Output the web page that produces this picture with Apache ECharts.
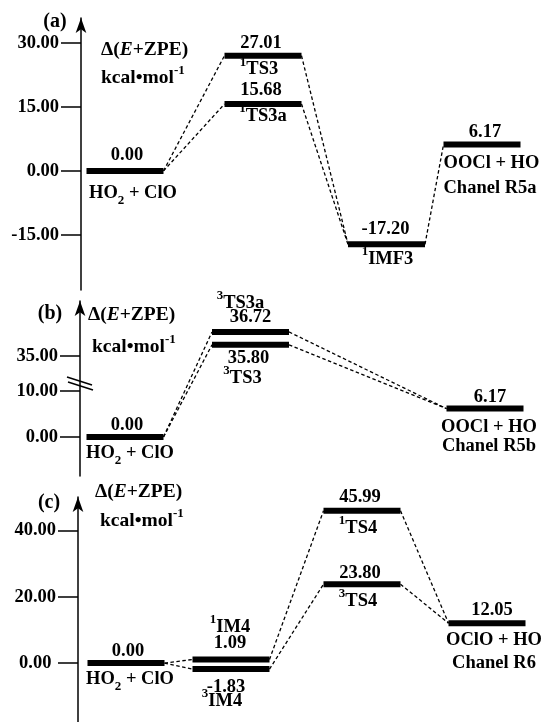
<!DOCTYPE html>
<html><head><meta charset="utf-8">
<script src="https://cdn.jsdelivr.net/npm/echarts@6/dist/echarts.min.js"></script>
<style>html,body{margin:0;padding:0;background:#fff}#c{width:542px;height:722px}</style>
</head><body><div id="c"></div>
<script>
// ================= DATA =================
// Panel (a) – channel R5a
const aSpecies = ['HO_2 + ClO', '^1TS3', '^1TS3a', '^1IMF3', 'OOCl + HO'];
const aEnergy  = [0.00, 27.01, 15.68, -17.20, 6.17];
const aStage   = [0, 1, 1, 2, 3];
const aLinks   = [[0, 1], [0, 2], [1, 3], [2, 3], [3, 4]];
const aChannel = 'Chanel R5a';
const aTicks   = [-15, 0, 15, 30];

// Panel (b) – channel R5b (broken energy axis)
const bSpecies   = ['HO_2 + ClO', '^3TS3a', '^3TS3', 'OOCl + HO'];
const bEnergy    = [0.00, 36.72, 35.80, 6.17];
const bStage     = [0, 1, 1, 2];
const bLinks     = [[0, 1], [0, 2], [1, 3], [2, 3]];
const bChannel   = 'Chanel R5b';
const bTicksLow  = [0, 10];
const bTicksHigh = [35];

// Panel (c) – channel R6
const cSpecies = ['HO_2 + ClO', '^1IM4', '^3IM4', '^1TS4', '^3TS4', 'OClO + HO'];
const cEnergy  = [0.00, 1.09, -1.83, 45.99, 23.80, 12.05];
const cStage   = [0, 1, 1, 2, 2, 3];
const cLinks   = [[0, 1], [0, 2], [1, 3], [2, 4], [3, 5], [4, 5]];
const cChannel = 'Chanel R6';
const cTicks   = [0, 20, 40];

const panelNames = ['(a)', '(b)', '(c)'];
const yTitleRich = '{d|Δ(}{i|E}{d|+ZPE)}';
const yUnitRich  = 'kcal•mol{sup|-1}';

// ================= LAYOUT / STYLE =================
const FF = '"Liberation Serif", "Times New Roman", serif';
const FS = 18.5;
const LH = 28;
const HW = 3.85;      // half bar width in reaction-coordinate units
const BAR_H = 6;
const RICH = {
  sup: { fontFamily: FF, fontWeight: 'bold', fontSize: 13, lineHeight: 13, verticalAlign: 'top', fill: '#000' },
  sub: { fontFamily: FF, fontWeight: 'bold', fontSize: 13, lineHeight: 20, verticalAlign: 'bottom', fill: '#000' },
  d:   { fontFamily: FF, fontWeight: 'bold', fontSize: 19.5, lineHeight: LH, fill: '#000' },
  i:   { fontFamily: FF, fontWeight: 'bold', fontStyle: 'italic', fontSize: 19.5, lineHeight: LH, fill: '#000' }
};
const PA = {
  species: aSpecies, energy: aEnergy, stage: aStage, channel: aChannel,
  stageX: [4.4, 18.2, 30.55, 40.1],
  labels: [
    [['v', -16, 2], ['n', 22, 8]],
    [['v', -12, -2], ['n', 14, -4]],
    [['v', -14, -2], ['n', 12, 0]],
    [['v', -15, -1], ['n', 15, 1]],
    [['v', -12, 3], ['n', 19, 0, 'left'], ['c', 44, 0, 'left']]
  ]
};
const PB = {
  species: bSpecies, energy: bEnergy, stage: bStage, channel: bChannel,
  stageX: [4.5, 17.05, 40.5],
  axis: [1, 2, 2, 1],
  labels: [
    [['v', -12, 2], ['n', 16, 5]],
    [['n', -29, -10], ['v', -15, 0]],
    [['v', 13, -2], ['n', 33, -8]],
    [['v', -11, 5], ['n', 19, 4], ['c', 38, 4]]
  ]
};
const PC = {
  species: cSpecies, energy: cEnergy, stage: cStage, channel: cChannel,
  stageX: [4.8, 15.3, 28.4, 40.9],
  labels: [
    [['v', -12, 2], ['n', 16, 4]],
    [['n', -32, -1], ['v', -16, -1]],
    [['v', 18, -5], ['n', 32, -9]],
    [['v', -14, -2], ['n', 17, -4]],
    [['v', -11, -2], ['n', 17, -4]],
    [['v', -13, 5], ['n', 17, 7], ['c', 40, 7]]
  ]
};

function toRich(s) {
  return s.replace(/\^(\S)/g, '{sup|$1}').replace(/_(\S)/g, '{sub|$1}');
}
function textStyle(text, x, y, align) {
  return { text, x, y, fill: '#000', fontSize: FS, fontFamily: FF, fontWeight: 'bold',
           lineHeight: LH, align: align || 'center', verticalAlign: 'middle', rich: RICH };
}

function levelSeries(P, xi, yi, ids) {
  return {
    type: 'custom', xAxisIndex: xi, yAxisIndex: yi, clip: false, silent: true, z: 5,
    data: ids.map(i => [P.stageX[P.stage[i]], P.energy[i], i]),
    encode: { x: 0, y: 1 },
    renderItem: (params, api) => {
      const i = api.value(2), x = api.value(0), e = api.value(1);
      const l = api.coord([x - HW, e]), r = api.coord([x + HW, e]);
      const cx = (l[0] + r[0]) / 2, y = l[1];
      const children = [{ type: 'rect', shape: { x: l[0], y: y - BAR_H / 2, width: r[0] - l[0], height: BAR_H }, style: { fill: '#000' } }];
      P.labels[i].forEach(([kind, dy, dx, align]) => {
        const txt = kind === 'v' ? P.energy[i].toFixed(2) : kind === 'n' ? toRich(P.species[i]) : P.channel;
        const tx = align === 'left' ? l[0] + dx : cx + dx;
        children.push({ type: 'text', style: textStyle(txt, tx, y + dy, align) });
      });
      return { type: 'group', children };
    }
  };
}
function linkSeries(P, links, xi, yi) {
  return {
    type: 'custom', xAxisIndex: xi, yAxisIndex: yi, clip: false, silent: true, z: 3,
    data: links.map(([f, t]) => [P.stageX[P.stage[f]] + HW, P.energy[f], P.stageX[P.stage[t]] - HW, P.energy[t]]),
    encode: { x: [0, 2], y: [1, 3] },
    renderItem: (params, api) => {
      const p1 = api.coord([api.value(0), api.value(1)]);
      const p2 = api.coord([api.value(2), api.value(3)]);
      return { type: 'line', shape: { x1: p1[0], y1: p1[1], x2: p2[0], y2: p2[1] },
               style: { stroke: '#000', lineWidth: 1.3, lineDash: [3.5, 2.5] } };
    }
  };
}
function yAxisCfg(gridIndex, min, max, ticks, showLine, fmt) {
  return {
    type: 'value', gridIndex, min, max, position: 'left', offset: 0,
    axisLine: { show: showLine, onZero: false, symbol: ['none', 'arrow'], symbolSize: [8, 15],
                lineStyle: { color: '#000', width: 1.5 } },
    axisTick: { show: true, customValues: ticks, length: 20, lineStyle: { color: '#000', width: 1.5 } },
    axisLabel: { show: true, customValues: ticks, margin: 22, color: '#000', fontFamily: FF,
                 fontWeight: 'bold', fontSize: 18.5, formatter: fmt || (v => v.toFixed(2)) },
    splitLine: { show: false }
  };
}
const xAxisCfg = gi => ({ type: 'value', gridIndex: gi, min: 0, max: 46, show: false });

const option = {
  animation: false,
  backgroundColor: '#fff',
  grid: [
    { left: 81, top: 18, width: 460, height: 272, containLabel: false, outerBoundsMode: 'none' },
    { left: 80, top: 301, width: 460, height: 175, containLabel: false, outerBoundsMode: 'none' },
    { left: 78, top: 497, width: 460, height: 225, containLabel: false, outerBoundsMode: 'none' }
  ],
  xAxis: [xAxisCfg(0), xAxisCfg(1), xAxisCfg(2)],
  yAxis: [
    yAxisCfg(0, -27.9, 35.83, aTicks, true),
    yAxisCfg(1, -8.48, 29.57, bTicksLow, true),
    yAxisCfg(1, 26.43, 38.93, bTicksHigh, false),
    yAxisCfg(2, -17.8, 50.15, cTicks, true, v => v === 0 ? '0.00 ' : v.toFixed(2))
  ],
  series: [
    linkSeries(PA, aLinks, 0, 0),
    levelSeries(PA, 0, 0, aEnergy.map((_, i) => i)),
    levelSeries(PB, 1, 1, [0, 3]),
    levelSeries(PB, 1, 2, [1, 2]),
    linkSeries(PC, cLinks, 2, 3),
    levelSeries(PC, 2, 3, cEnergy.map((_, i) => i))
  ]
};

const chart = echarts.init(document.getElementById('c'), null, { renderer: 'canvas' });
chart.setOption(option);

// second pass: panel (b) connectors span two y-axes; use the library's scales to place them
const gx = v => chart.convertToPixel({ xAxisIndex: 1 }, v);
const gy = (ai, v) => chart.convertToPixel({ yAxisIndex: ai }, v);
const dash = { stroke: '#000', lineWidth: 1.3, lineDash: [3.5, 2.5] };
const elements = [];
bLinks.forEach(([f, t]) => {
  elements.push({ type: 'line', silent: true, z: 3,
    shape: { x1: gx(PB.stageX[bStage[f]] + HW), y1: gy(PB.axis[f], bEnergy[f]),
             x2: gx(PB.stageX[bStage[t]] - HW), y2: gy(PB.axis[t], bEnergy[t]) },
    style: dash });
});
// axis-break mark
const yb = gy(1, 10) - 8;
elements.push({ type: 'line', silent: true, z: 10, shape: { x1: 67, y1: yb - 6, x2: 92, y2: yb + 2 }, style: { stroke: '#000', lineWidth: 1.5 } });
elements.push({ type: 'line', silent: true, z: 10, shape: { x1: 68, y1: yb - 1, x2: 93, y2: yb + 7 }, style: { stroke: '#000', lineWidth: 1.5 } });
// panel letters and axis titles
const titlePos = [
  { letter: [55, 22], title: [101, 50], unit: [101, 78] },
  { letter: [50, 314], title: [88, 315], unit: [92, 347] },
  { letter: [49, 503], title: [95, 492], unit: [100, 521] }
];
titlePos.forEach((p, k) => {
  elements.push({ type: 'text', silent: true, style: Object.assign(textStyle(panelNames[k], p.letter[0], p.letter[1], 'center'), { fontSize: 20 }) });
  elements.push({ type: 'text', silent: true, style: textStyle(yTitleRich, p.title[0], p.title[1], 'left') });
  elements.push({ type: 'text', silent: true, style: Object.assign(textStyle(yUnitRich, p.unit[0], p.unit[1], 'left'), { fontSize: 19.5 }) });
});
chart.setOption({ graphic: { elements } });
</script></body></html>
